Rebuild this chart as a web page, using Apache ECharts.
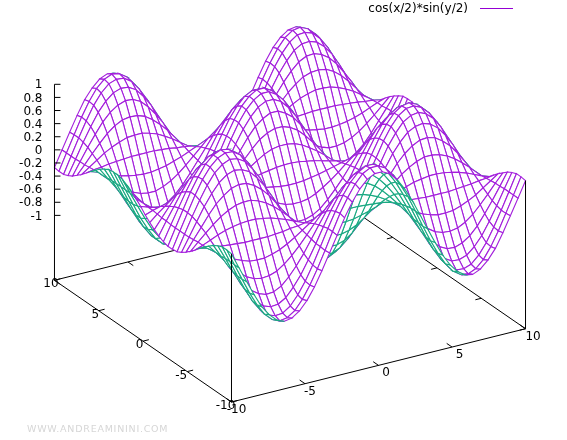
<!DOCTYPE html>
<html>
<head>
<meta charset="utf-8">
<title>cos(x/2)*sin(y/2)</title>
<style>
  html, body { margin: 0; padding: 0; background: #fff; }
  #wrap { position: relative; width: 567px; height: 440px; }
  #chart { width: 567px; height: 440px; }
  #mark { position: absolute; left: 27px; top: 423px; font: 9.5px "DejaVu Sans", sans-serif; letter-spacing: 0.75px; color: #d6d6d6; white-space: nowrap; }
</style>
</head>
<body>
<div id="wrap">
  <div id="chart"></div>
  <div id="mark">WWW.ANDREAMININI.COM</div>
</div>
<script src="https://cdn.jsdelivr.net/npm/echarts@6/dist/echarts.min.js"></script>
<script>
const seriesName = 'cos(x/2)*sin(y/2)'
const xTicks = [-10, -5, 0, 5, 10]
const yTicks = [-10, -5, 0, 5, 10]
const zTicks = [1, 0.8, 0.6, 0.4, 0.2, 0, -0.2, -0.4, -0.6, -0.8, -1]

// sample positions on the positive half of both axes, the other half mirrors them
const halfSamples = [0.26, 0.77, 1.28, 1.79, 2.31, 2.82, 3.33, 3.85, 4.36, 4.87, 5.38, 5.9, 6.41, 6.92, 7.44, 7.95, 8.46, 8.97, 9.49, 10]

// heights for x >= 0, y >= 0: one row per y in halfSamples, one column per x
// the surface repeats for -x and flips its sign for -y
const heightRows = [
  [0.13, 0.12, 0.10, 0.08, 0.05, 0.02, -0.01, -0.04, -0.07, -0.10, -0.12, -0.13, -0.13, -0.12, -0.11, -0.09, -0.06, -0.03, 0, 0.04],
  [0.37, 0.35, 0.30, 0.23, 0.15, 0.06, -0.04, -0.13, -0.21, -0.29, -0.34, -0.37, -0.37, -0.36, -0.31, -0.25, -0.17, -0.08, 0.01, 0.11],
  [0.59, 0.55, 0.48, 0.37, 0.24, 0.10, -0.06, -0.21, -0.34, -0.46, -0.54, -0.59, -0.60, -0.57, -0.50, -0.40, -0.28, -0.13, 0.02, 0.17],
  [0.78, 0.72, 0.63, 0.49, 0.32, 0.13, -0.08, -0.27, -0.45, -0.60, -0.70, -0.77, -0.78, -0.74, -0.66, -0.53, -0.36, -0.17, 0.02, 0.22],
  [0.91, 0.85, 0.73, 0.57, 0.37, 0.15, -0.09, -0.32, -0.52, -0.70, -0.82, -0.90, -0.91, -0.87, -0.77, -0.62, -0.42, -0.20, 0.03, 0.26],
  [0.98, 0.91, 0.79, 0.62, 0.40, 0.16, -0.09, -0.34, -0.56, -0.75, -0.89, -0.97, -0.99, -0.94, -0.83, -0.66, -0.46, -0.22, 0.03, 0.28],
  [0.99, 0.92, 0.80, 0.62, 0.40, 0.16, -0.10, -0.34, -0.57, -0.76, -0.90, -0.98, -0.99, -0.94, -0.83, -0.67, -0.46, -0.22, 0.03, 0.28],
  [0.93, 0.87, 0.75, 0.59, 0.38, 0.15, -0.09, -0.32, -0.54, -0.71, -0.85, -0.92, -0.94, -0.89, -0.79, -0.63, -0.43, -0.21, 0.03, 0.27],
  [0.81, 0.76, 0.66, 0.51, 0.33, 0.13, -0.08, -0.28, -0.47, -0.62, -0.74, -0.80, -0.82, -0.78, -0.69, -0.55, -0.38, -0.18, 0.03, 0.23],
  [0.64, 0.60, 0.52, 0.40, 0.26, 0.10, -0.06, -0.22, -0.37, -0.49, -0.58, -0.64, -0.65, -0.62, -0.54, -0.44, -0.30, -0.14, 0.02, 0.18],
  [0.43, 0.40, 0.35, 0.27, 0.18, 0.07, -0.04, -0.15, -0.25, -0.33, -0.39, -0.43, -0.43, -0.41, -0.36, -0.29, -0.20, -0.10, 0.01, 0.12],
  [0.19, 0.18, 0.15, 0.12, 0.08, 0.03, -0.02, -0.07, -0.11, -0.15, -0.17, -0.19, -0.19, -0.18, -0.16, -0.13, -0.09, -0.04, 0.01, 0.05],
  [-0.06, -0.06, -0.05, -0.04, -0.03, -0.01, 0.01, 0.02, 0.04, 0.05, 0.06, 0.06, 0.06, 0.06, 0.05, 0.04, 0.03, 0.01, 0, -0.02],
  [-0.31, -0.29, -0.25, -0.20, -0.13, -0.05, 0.03, 0.11, 0.18, 0.24, 0.28, 0.31, 0.31, 0.30, 0.26, 0.21, 0.15, 0.07, -0.01, -0.09],
  [-0.54, -0.51, -0.44, -0.34, -0.22, -0.09, 0.05, 0.19, 0.31, 0.41, 0.49, 0.53, 0.54, 0.52, 0.46, 0.37, 0.25, 0.12, -0.02, -0.15],
  [-0.73, -0.69, -0.59, -0.46, -0.30, -0.12, 0.07, 0.26, 0.42, 0.56, 0.67, 0.73, 0.74, 0.70, 0.62, 0.50, 0.34, 0.17, -0.02, -0.21],
  [-0.88, -0.82, -0.71, -0.55, -0.36, -0.14, 0.09, 0.31, 0.51, 0.67, 0.80, 0.87, 0.88, 0.84, 0.74, 0.60, 0.41, 0.20, -0.03, -0.25],
  [-0.97, -0.90, -0.78, -0.61, -0.39, -0.16, 0.09, 0.34, 0.56, 0.74, 0.88, 0.96, 0.97, 0.93, 0.82, 0.66, 0.45, 0.22, -0.03, -0.28],
  [-0.99, -0.93, -0.80, -0.62, -0.41, -0.16, 0.10, 0.35, 0.57, 0.76, 0.90, 0.98, 1.00, 0.95, 0.84, 0.67, 0.46, 0.22, -0.03, -0.28],
  [-0.95, -0.89, -0.77, -0.60, -0.39, -0.15, 0.09, 0.33, 0.55, 0.73, 0.86, 0.94, 0.96, 0.91, 0.80, 0.65, 0.44, 0.21, -0.03, -0.27]
]

const LEGEND_COLOR = '#9400d3'
// a bit lighter than the legend because every mesh edge gets stroked twice
const TOP_COLOR = '#a31fdc'
const UNDER_COLOR = '#1aa982'
const FONT = '"DejaVu Sans", sans-serif'

// gnuplot style view: turn around z, then tip back
const ROT_Z = 31.05 * Math.PI / 180
const ROT_X = 60 * Math.PI / 180
const Z_SCALE = 0.5326
const Z_BASE = -1.99

// where the view centre sits on the canvas and pixels per view unit
const W = 567
const H = 440
const CX = 290
const CY = 304.5
const SU = 171.6
const SV = 142.1

const project = (x, y, z) => [
  (x * Math.cos(ROT_Z) - y * Math.sin(ROT_Z)) / 10,
  (x * Math.sin(ROT_Z) + y * Math.cos(ROT_Z)) / 10 * Math.cos(ROT_X) + (z - Z_BASE) * Z_SCALE * Math.sin(ROT_X)
]

const samples = [...halfSamples.map(v => -v).reverse(), ...halfSamples]
const height = (i, j) => {
  const half = halfSamples.length
  const row = heightRows[j >= half ? j - half : half - 1 - j]
  const value = row[i >= half ? i - half : half - 1 - i]
  return j >= half ? value : -value
}

// quads go back to front so the white fill hides what is behind them
const quads = []
for (let j = samples.length - 2; j >= 0; j--) {
  for (let i = samples.length - 2; i >= 0; i--) {
    quads.push([
      ...project(samples[i], samples[j], height(i, j)),
      ...project(samples[i + 1], samples[j], height(i + 1, j)),
      ...project(samples[i + 1], samples[j + 1], height(i + 1, j + 1)),
      ...project(samples[i], samples[j + 1], height(i, j + 1))
    ])
  }
}

const segment = (a, b) => [...a, ...b]
const base = (x, y) => project(x, y, Z_BASE)
const last = samples.length - 1

const backLines = [
  segment(base(-10, 10), base(10, 10)),
  segment(base(10, -10), base(10, 10))
]
xTicks.forEach(x => backLines.push(segment(base(x, 10), base(x, 9.4))))
yTicks.forEach(y => backLines.push(segment(base(10, y), base(9.6, y))))

const frontLines = [
  segment(base(-10, 10), base(-10, -10)),
  segment(base(-10, -10), base(10, -10)),
  segment(base(-10, -10), project(-10, -10, height(0, 0))),
  segment(base(10, -10), project(10, -10, height(last, 0))),
  segment(base(-10, 10), project(-10, 10, 1))
]
xTicks.forEach(x => frontLines.push(segment(base(x, -10), base(x, -9.4))))
yTicks.forEach(y => frontLines.push(segment(base(-10, y), base(-9.6, y))))
zTicks.forEach(z => {
  const p = project(-10, 10, z)
  frontLines.push([p[0], p[1], p[0] + 6 / SU, p[1]])
})

const labels = []
xTicks.forEach(x => labels.push({ value: base(x, -10), text: String(x), dx: x < 0 ? 5 : 7.5, dy: 8, align: 'center' }))
yTicks.forEach(y => labels.push({ value: base(-10, y), text: String(y), dx: y < 0 ? -6 : -3.5, dy: 4, align: 'center' }))
zTicks.forEach(z => labels.push({ value: project(-10, 10, z), text: String(z), dx: -12, dy: 1, align: 'right' }))

const lineItem = (params, api) => {
  const a = api.coord([api.value(0), api.value(1)])
  const b = api.coord([api.value(2), api.value(3)])
  return {
    type: 'line',
    shape: { x1: a[0], y1: a[1], x2: b[0], y2: b[1] },
    style: { stroke: '#000', lineWidth: 1, fill: null }
  }
}

const chart = echarts.init(document.getElementById('chart'))
chart.setOption({
  animation: false,
  grid: { left: 0, right: 0, top: 0, bottom: 0 },
  xAxis: { type: 'value', show: false, min: -CX / SU, max: (W - CX) / SU },
  yAxis: { type: 'value', show: false, min: (CY - H) / SV, max: CY / SV },
  legend: {
    data: [seriesName],
    selectedMode: false,
    right: 54,
    top: 2.5,
    padding: 0,
    align: 'right',
    icon: 'rect',
    itemWidth: 33,
    itemHeight: 1,
    textStyle: { fontFamily: FONT, fontSize: 12, color: '#000', padding: [0, 7, 0, 0] }
  },
  series: [
    {
      name: 'back',
      type: 'custom',
      silent: true,
      clip: false,
      progressive: 0,
      data: backLines,
      renderItem: lineItem
    },
    {
      name: seriesName,
      type: 'custom',
      silent: true,
      clip: false,
      progressive: 0,
      itemStyle: { color: LEGEND_COLOR },
      data: quads,
      renderItem: (params, api) => {
        const points = [0, 2, 4, 6].map(k => api.coord([api.value(k), api.value(k + 1)]))
        let area = 0
        points.forEach((p, k) => {
          const q = points[(k + 1) % 4]
          area += p[0] * q[1] - q[0] * p[1]
        })
        return {
          type: 'polygon',
          shape: { points },
          style: { fill: '#fff', stroke: area < 0 ? TOP_COLOR : UNDER_COLOR, lineWidth: 1.1 }
        }
      }
    },
    {
      name: 'front',
      type: 'custom',
      silent: true,
      clip: false,
      progressive: 0,
      data: frontLines,
      renderItem: lineItem
    },
    {
      name: 'labels',
      type: 'custom',
      silent: true,
      clip: false,
      data: labels,
      renderItem: (params, api) => {
        const item = labels[params.dataIndex]
        const p = api.coord([api.value(0), api.value(1)])
        return {
          type: 'text',
          x: p[0] + item.dx,
          y: p[1] + item.dy,
          style: {
            text: item.text,
            align: item.align,
            verticalAlign: 'middle',
            fill: '#000',
            font: '12px ' + FONT
          }
        }
      }
    }
  ]
})
</script>
</body>
</html>
